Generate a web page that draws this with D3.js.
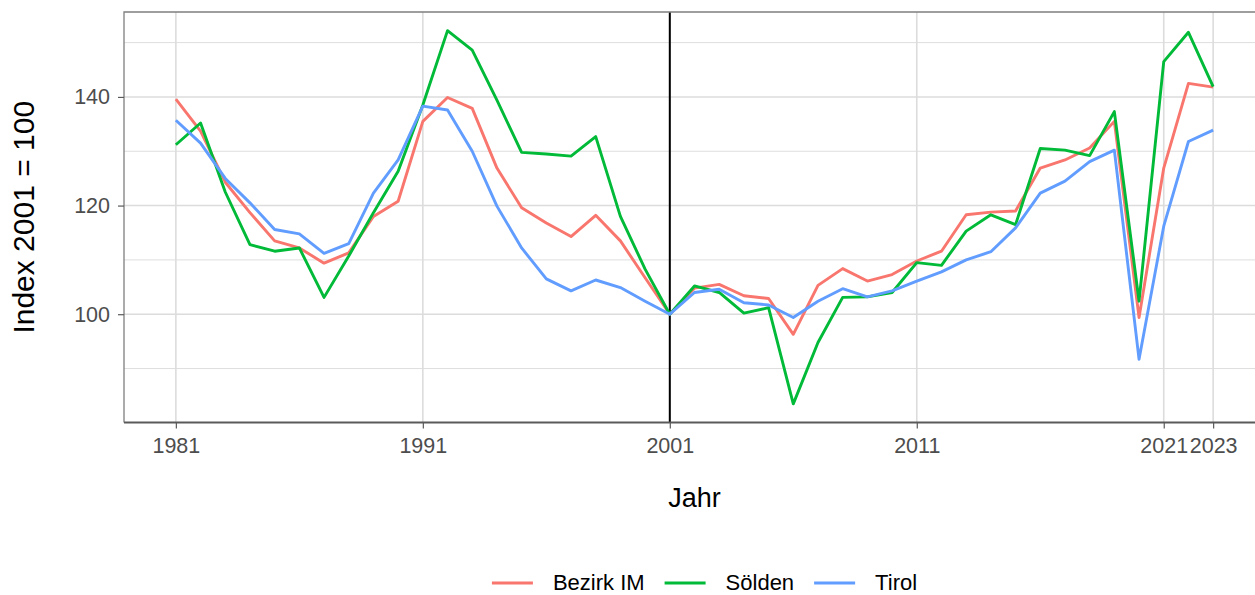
<!DOCTYPE html>
<html>
<head>
<meta charset="utf-8">
<script src="https://cdn.jsdelivr.net/npm/d3@7"></script>
<style>
  body { margin: 0; background: #fff; }
  svg { font-family: "Liberation Sans", Arial, sans-serif; }
</style>
</head>
<body>
<svg id="svgRoot" width="1255" height="595"></svg>
<script>

// data
const years = [1981, 1982, 1983, 1984, 1985, 1986, 1987, 1988, 1989, 1990,
  1991, 1992, 1993, 1994, 1995, 1996, 1997, 1998, 1999, 2000,
  2001, 2002, 2003, 2004, 2005, 2006, 2007, 2008, 2009, 2010,
  2011, 2012, 2013, 2014, 2015, 2016, 2017, 2018, 2019, 2020,
  2021, 2022, 2023]

const bezirk_im = [139.6, 133.7, 124.3, 118.7, 113.5, 112.2, 109.4, 111.3, 118.0, 120.8,
  135.5, 139.9, 137.9, 126.9, 119.6, 116.8, 114.3, 118.2, 113.5, 106.7,
  100.0, 104.8, 105.5, 103.4, 102.9, 96.3, 105.3, 108.4, 106.1, 107.3,
  109.8, 111.6, 118.3, 118.8, 119.0, 126.9, 128.4, 130.6, 135.5, 99.4,
  126.9, 142.5, 141.8]

const soelden = [131.2, 135.2, 122.5, 112.8, 111.6, 112.2, 103.1, 110.7, 118.7, 126.3,
  138.5, 152.2, 148.6, 139.4, 129.8, 129.5, 129.1, 132.7, 118.0, 108.3,
  100.0, 105.2, 104.0, 100.2, 101.2, 83.5, 94.8, 103.1, 103.2, 104.0,
  109.5, 109.0, 115.3, 118.3, 116.5, 130.5, 130.2, 129.2, 137.3, 102.4,
  146.5, 151.9, 141.9]

const tirol = [135.7, 131.5, 125.0, 120.5, 115.6, 114.8, 111.2, 113.0, 122.3, 128.4,
  138.3, 137.6, 130.0, 119.9, 112.2, 106.5, 104.3, 106.3, 104.9, 102.4,
  100.0, 104.0, 104.6, 102.1, 101.7, 99.4, 102.4, 104.7, 103.2, 104.3,
  106.1, 107.8, 110.0, 111.5, 115.9, 122.3, 124.5, 128.1, 130.2, 91.7,
  116.2, 131.8, 133.9]

const series_names = ["Bezirk IM", "Sölden", "Tirol"]
const series_colors = ["#F8766D", "#00BA38", "#619CFF"]

const x_ticks = [1981, 1991, 2001, 2011, 2021, 2023]
const y_ticks = [100, 120, 140]
const y_minor = [90, 110, 130, 150]
const ref_year = 2001


function draw_vis() {

  let svg = d3.select("#svgRoot")

  const series = [bezirk_im, soelden, tirol].map((vals, i) => ({
    name: series_names[i],
    color: series_colors[i],
    values: years.map((y, j) => ({ year: y, value: vals[j] })),
  }))

  // ggplot like 5% expansion on both axes
  let x_ext = d3.extent(years)
  let x_pad = (x_ext[1] - x_ext[0]) * 0.05
  let all_vals = bezirk_im.concat(soelden, tirol)
  let y_ext = d3.extent(all_vals)
  let y_pad = (y_ext[1] - y_ext[0]) * 0.05

  const panel = { left: 124, top: 12, bottom: 422.5 }

  let scale_x = d3
    .scaleLinear()
    .domain([x_ext[0] - x_pad, x_ext[1] + x_pad])
    .range([panel.left, 1265])

  let scale_y = d3
    .scaleLinear()
    .domain([y_ext[0] - y_pad, y_ext[1] + y_pad])
    .range([panel.bottom, panel.top])

  let right = scale_x.range()[1]

  // grid
  let g_grid = svg.append("g").attr("class", "g_grid")

  g_grid.selectAll(".minor_y").data(y_minor).enter()
    .append("line")
    .attr("x1", panel.left).attr("x2", right)
    .attr("y1", (d) => scale_y(d)).attr("y2", (d) => scale_y(d))
    .attr("stroke", "#dedede").attr("stroke-width", 1)

  g_grid.selectAll(".major_y").data(y_ticks).enter()
    .append("line")
    .attr("x1", panel.left).attr("x2", right)
    .attr("y1", (d) => scale_y(d)).attr("y2", (d) => scale_y(d))
    .attr("stroke", "#dcdcdc").attr("stroke-width", 1.6)

  g_grid.selectAll(".major_x").data(x_ticks).enter()
    .append("line")
    .attr("x1", (d) => scale_x(d)).attr("x2", (d) => scale_x(d))
    .attr("y1", panel.top).attr("y2", panel.bottom)
    .attr("stroke", "#dcdcdc").attr("stroke-width", 1.6)

  // reference year
  svg.append("line")
    .attr("x1", scale_x(ref_year)).attr("x2", scale_x(ref_year))
    .attr("y1", panel.top).attr("y2", panel.bottom)
    .attr("stroke", "#000").attr("stroke-width", 2)

  // lines
  let line = d3.line()
    .x((d) => scale_x(d.year))
    .y((d) => scale_y(d.value))

  svg.append("g").attr("class", "g_lines")
    .selectAll("path").data(series).enter()
    .append("path")
    .attr("d", (d) => line(d.values))
    .attr("fill", "none")
    .attr("stroke", (d) => d.color)
    .attr("stroke-width", 2.9)
    .attr("stroke-linejoin", "round")

  // panel border (top + left), bottom axis line
  svg.append("path")
    .attr("d", "M" + right + "," + panel.top + "H" + panel.left + "V" + panel.bottom)
    .attr("fill", "none").attr("stroke", "#7f7f7f").attr("stroke-width", 1.3)

  // axes
  let g_xAxis = svg.append("g").attr("class", "g_xAxis")
    .attr("transform", "translate(0," + panel.bottom + ")")
    .call(d3.axisBottom(scale_x).tickValues(x_ticks).tickFormat(d3.format("d")).tickSize(6).tickPadding(9))
  g_xAxis.select(".domain").attr("stroke", "#5a5a5a").attr("stroke-width", 2)
    .attr("d", "M" + panel.left + ",0H" + right)

  let g_yAxis = svg.append("g").attr("class", "g_yAxis")
    .attr("transform", "translate(" + panel.left + ",0)")
    .call(d3.axisLeft(scale_y).tickValues(y_ticks).tickSize(6).tickPadding(8))
  g_yAxis.select(".domain").remove()

  svg.selectAll(".g_xAxis .tick line, .g_yAxis .tick line").attr("stroke", "#5a5a5a").attr("stroke-width", 1.2)
  svg.selectAll(".g_xAxis text, .g_yAxis text")
    .attr("fill", "#4d4d4d")
    .style("font-size", "21.5px")
    .style("font-family", "'Liberation Sans', Arial, sans-serif")

  // axis titles
  svg.append("text")
    .attr("x", (panel.left + right) / 2)
    .attr("y", 507)
    .attr("text-anchor", "middle")
    .style("font-size", "27px")
    .text("Jahr")

  svg.append("text")
    .attr("transform", "translate(34," + ((panel.top + panel.bottom) / 2) + ") rotate(-90)")
    .attr("text-anchor", "middle")
    .style("font-size", "30px")
    .text("Index 2001 = 100")

  // legend
  let g_legend = svg.append("g").attr("class", "g_legend")
  let x_pos = 0
  series.forEach((s, i) => {
    let item = g_legend.append("g")
    item.append("line")
      .attr("x1", x_pos).attr("x2", x_pos + 41)
      .attr("y1", 0).attr("y2", 0)
      .attr("stroke", s.color).attr("stroke-width", 3)
    let t = item.append("text")
      .attr("x", x_pos + 61).attr("y", 7)
      .style("font-size", "22px")
      .text(s.name)
    x_pos += 61 + t.node().getComputedTextLength() + 20
  })
  let legend_width = x_pos - 20
  g_legend.attr("transform", "translate(" + (704.5 - legend_width / 2) + ",583)")
}

draw_vis()
</script>
</body>
</html>
